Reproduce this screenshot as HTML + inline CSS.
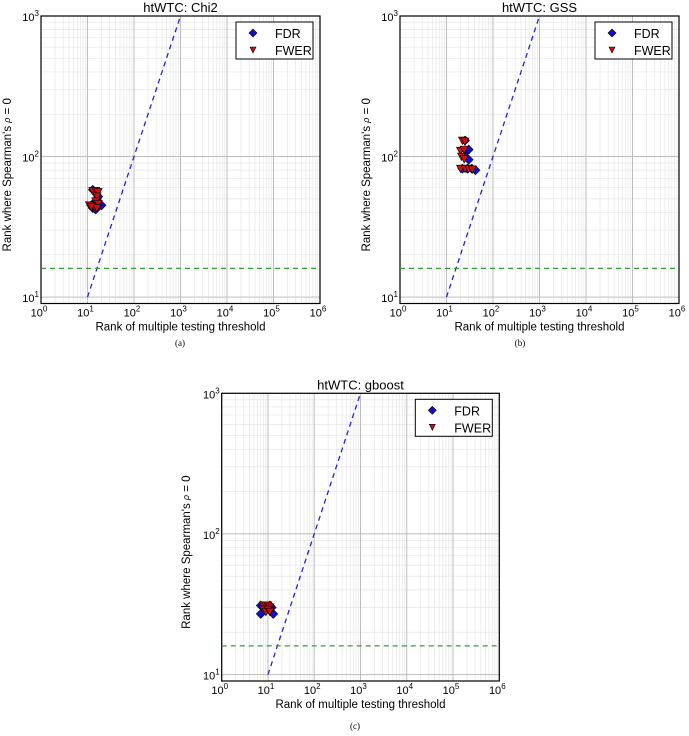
<!DOCTYPE html>
<html><head><meta charset="utf-8"><style>
body{margin:0;background:#fff;width:689px;height:736px;overflow:hidden}
svg{display:block;font-family:"Liberation Sans",sans-serif}
</style></head><body>
<svg id="fig" width="689" height="736"></svg>
<script>
const titles=["htWTC: Chi2","htWTC: GSS","htWTC: gboost"];
const captions=["(a)","(b)","(c)"];
const xTicks=[0,1,2,3,4,5,6];
const yTicks=[1,2,3];
const refLineY=16;
const fdrXa=[13,15,16,14,13,15,20,17,12];
const fdrYa=[58,55,50,47,43,42,45,52,45];
const fwerXa=[11,13,15,17,16,15,14,17,16,12];
const fwerYa=[45,57,57,56,52,48,44,46,43,44];
const fdrXb=[25,27,30,25,30,28,35,42,22];
const fdrYb=[130,110,112,100,95,82,82,80,82];
const fwerXb=[22,25,20,24,21,24,20,25,30,36];
const fwerYb=[130,128,110,112,100,96,82,82,82,81];
const fdrXc=[7,7,8,11,13,12,9];
const fdrYc=[31,27,30,31,27,30,29];
const fwerXc=[8,9,10,11,8,9,10,11];
const fwerYc=[31,31,31,30,29,28,29,28];
const panels=[
 {x0:41,x1:320,y0:16,y1:303.5,cap:[180,346],yl:8,fx:fdrXa,fy:fdrYa,wx:fwerXa,wy:fwerYa},
 {x0:400,x1:679,y0:16,y1:303.5,cap:[520,346],yl:367,fx:fdrXb,fy:fdrYb,wx:fwerXb,wy:fwerYb},
 {x0:221.7,x1:499.3,y0:393.3,y1:681,cap:[355,729],yl:187,fx:fdrXc,fy:fdrYc,wx:fwerXc,wy:fwerYc}];
const NS="http://www.w3.org/2000/svg";
const svg=document.getElementById('fig');
function mk(t,a,p){const e=document.createElementNS(NS,t);for(const k in a)e.setAttribute(k,a[k]);(p||svg).appendChild(e);return e;}
const yMin=Math.log10(9),yMax=3;
panels.forEach((P,i)=>{
 const g=mk('g',{});
 
 
 const X=v=>P.x0+(Math.log10(v)/6)*(P.x1-P.x0);
 const Y=v=>P.y1-(Math.log10(v)-yMin)/(yMax-yMin)*(P.y1-P.y0);
 for(let d=0;d<6;d++)for(let m=2;m<10;m++){const x=X(m*Math.pow(10,d));mk('line',{x1:x,x2:x,y1:P.y0,y2:P.y1,stroke:'#e6e6e6','stroke-width':0.7},g);}
 for(let d=0;d<3;d++)for(let m=1;m<10;m++){const v=m*Math.pow(10,d);if(v<9||(m==1))continue;const y=Y(v);mk('line',{x1:P.x0,x2:P.x1,y1:y,y2:y,stroke:'#e6e6e6','stroke-width':0.7},g);}
 xTicks.forEach(t=>{const x=X(Math.pow(10,t));mk('line',{x1:x,x2:x,y1:P.y0,y2:P.y1,stroke:'#bdbdbd','stroke-width':1},g);
  const tx=mk('text',{x:x-2,y:P.y1+13,'font-size':11,'text-anchor':'middle',fill:'#000'},g);tx.innerHTML='10<tspan dy="-5" font-size="8">'+t+'</tspan>';
  
  });
 yTicks.forEach(t=>{const y=Y(Math.pow(10,t));mk('line',{x1:P.x0,x2:P.x1,y1:y,y2:y,stroke:'#bdbdbd','stroke-width':1},g);
  const tx=mk('text',{x:P.x0-2,y:y+5,'font-size':11,'text-anchor':'end',fill:'#000'},g);tx.innerHTML='10<tspan dy="-5" font-size="8">'+t+'</tspan>';
  
  });
 mk('rect',{x:P.x0,y:P.y0,width:P.x1-P.x0,height:P.y1-P.y0,fill:'none',stroke:'#000','stroke-width':1.2},g);
 const l1=mk('line',{x1:X(10),y1:Y(10),x2:X(1000),y2:Y(1000),stroke:'#2222dd','stroke-width':1.3,'stroke-dasharray':'5,4'},g);
 
 
 const l2=mk('line',{x1:P.x0,y1:Y(refLineY),x2:P.x1,y2:Y(refLineY),stroke:'#33a033','stroke-width':1.3,'stroke-dasharray':'5,4'},g);
 
 
 P.fx.forEach((v,j)=>{const x=X(v),y=Y(P.fy[j]);const d=mk('polygon',{points:`${x},${y-4.5} ${x+4.5},${y} ${x},${y+4.5} ${x-4.5},${y}`,fill:'#1010cc',stroke:'#000','stroke-width':0.6},g);
  
  });
 P.wx.forEach((v,j)=>{const x=X(v),y=Y(P.wy[j]);const d=mk('polygon',{points:`${x-4},${y-3.5} ${x+4},${y-3.5} ${x},${y+4}`,fill:'#cc1010',stroke:'#000','stroke-width':0.6},g);
  
  });
 const lg=mk('g',{},g);
 
 
 const lx=P.x1-84,ly=P.y0+6;
 mk('rect',{x:lx,y:ly,width:77,height:37,fill:'#fff',stroke:'#000','stroke-width':1},lg);
 const cx=lx+17,cy=ly+11;
 mk('polygon',{points:`${cx},${cy-4} ${cx+4},${cy} ${cx},${cy+4} ${cx-4},${cy}`,fill:'#1010cc',stroke:'#000','stroke-width':0.6},lg);
 mk('polygon',{points:`${cx-3},${cy+14} ${cx+3},${cy+14} ${cx},${cy+20}`,fill:'#cc1010',stroke:'#000','stroke-width':0.6},lg);
 mk('text',{x:lx+39,y:ly+16,'font-size':12.5},lg).textContent='FDR';
 mk('text',{x:lx+39,y:ly+33,'font-size':12.5},lg).textContent='FWER';
 const tt=mk('text',{x:(P.x0+P.x1)/2,y:P.y0-4,'font-size':13,'text-anchor':'middle'},g);tt.textContent=titles[i];
 
 
 const xl=mk('text',{x:(P.x0+P.x1)/2,y:P.y1+27,'font-size':11.5,'text-anchor':'middle'},g);xl.textContent='Rank of multiple testing threshold';
 
 
 const ym=(P.y0+P.y1)/2+15;
 const yl=mk('text',{x:P.yl,y:ym,'font-size':11.5,'text-anchor':'middle',transform:`rotate(-90 ${P.yl} ${ym})`,'dominant-baseline':'middle'},g);
 yl.innerHTML="Rank where Spearman's <tspan font-style='italic' font-size='9'>ρ</tspan> = 0";
 
 
 const cp=mk('text',{x:P.cap[0],y:P.cap[1],'font-size':9,'text-anchor':'middle','font-family':'Liberation Serif, serif'},g);cp.textContent=captions[i];
 
 
});
</script>
</body></html>
